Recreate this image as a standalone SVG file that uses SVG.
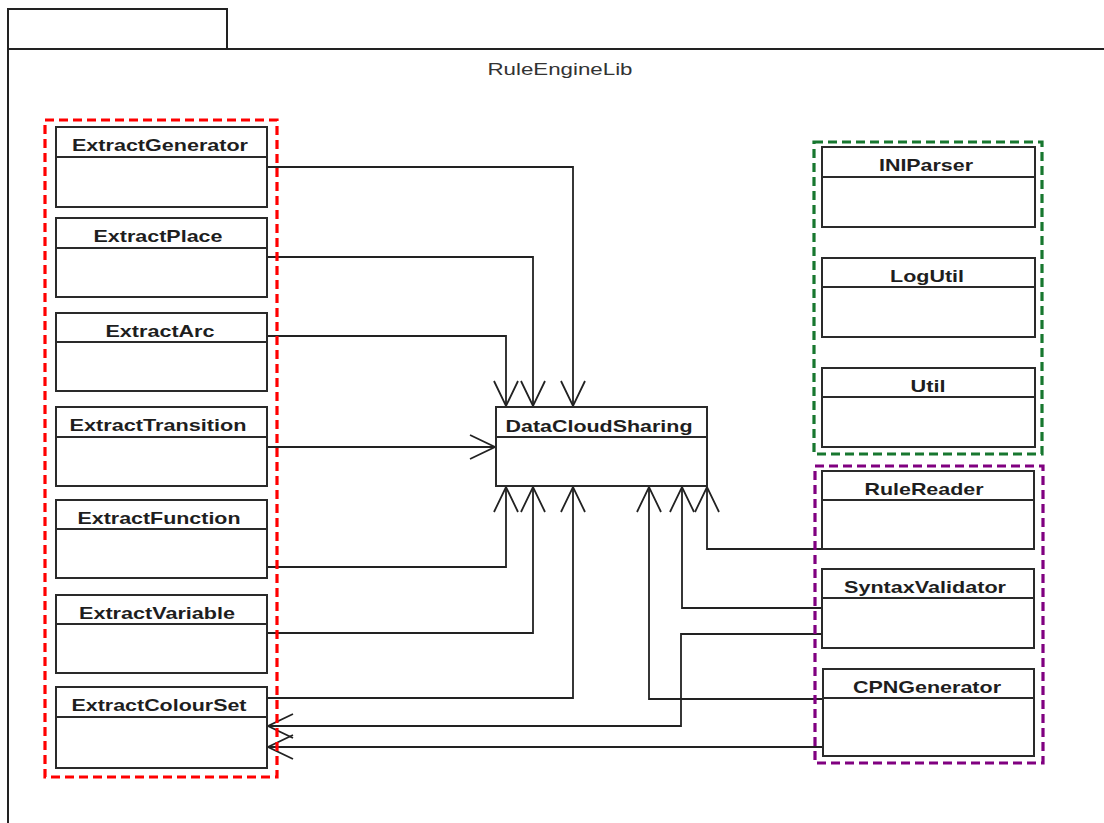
<svg xmlns="http://www.w3.org/2000/svg" width="1104" height="823" viewBox="0 0 1104 823">
  <style>
    .frame { fill: none; stroke: #222; stroke-width: 2; }
    .cls rect { fill: #fff; stroke: #2a2a2a; stroke-width: 2; }
    .cls line { stroke: #2a2a2a; stroke-width: 2; }
    .cls text { font-family: "Liberation Sans", Arial, sans-serif; font-size: 17px; font-weight: bold; fill: #1e1e1e; text-anchor: middle; }
    .title { font-family: "Liberation Sans", Arial, sans-serif; font-size: 17px; fill: #333; text-anchor: middle; }
    .dep { fill: none; stroke: #222; stroke-width: 1.8; marker-end: url(#open); }
    .grp { fill: none; stroke-width: 3.2; stroke-dasharray: 9 5; }
  </style>
  <defs>
    <marker id="open" markerUnits="userSpaceOnUse" markerWidth="32" markerHeight="32" viewBox="-28 -15 32 30" refX="0" refY="0" orient="auto">
      <path d="M-25,-12 L0,0 L-25,12" fill="none" stroke="#222" stroke-width="1.8"/>
    </marker>
  </defs>

  <rect width="1104" height="823" fill="#fff"/>

  <!-- package frame -->
  <g id="package">
    <rect class="frame" x="8" y="9" width="219" height="40"/>
    <path class="frame" d="M8,823 V49 H1104"/>
    <text class="title" x="560" y="75" textLength="145" lengthAdjust="spacingAndGlyphs">RuleEngineLib</text>
  </g>

  <!-- dependencies -->
  <g id="connectors">
    <path class="dep" d="M267,167 H573 V406"/>
    <path class="dep" d="M267,257 H533 V406"/>
    <path class="dep" d="M267,336 H506 V406"/>
    <path class="dep" d="M267,447 H495"/>
    <path class="dep" d="M267,567 H506 V487"/>
    <path class="dep" d="M267,633 H533 V487"/>
    <path class="dep" d="M267,698 H573 V487"/>
    <path class="dep" d="M822,549 H707 V487"/>
    <path class="dep" d="M822,608 H682 V487"/>
    <path class="dep" d="M822,699 H649 V487"/>
    <path class="dep" d="M822,634 H681 V726 H268"/>
    <path class="dep" d="M822,747 H268"/>
  </g>

  <!-- grouping outlines -->
  <g id="groups">
    <rect class="grp" x="45" y="120" width="232" height="657" stroke="#ff0000"/>
    <rect class="grp" x="814" y="142" width="228" height="312" stroke="#17772f"/>
    <rect class="grp" x="815" y="466" width="228" height="297" stroke="#800080"/>
  </g>

  <!-- classes -->
  <g id="ExtractGenerator" class="cls">
    <rect x="56" y="127" width="211" height="80"/>
    <line x1="56" y1="157" x2="267" y2="157"/>
    <text x="160" y="151" textLength="176" lengthAdjust="spacingAndGlyphs">ExtractGenerator</text>
  </g>
  <g id="ExtractPlace" class="cls">
    <rect x="56" y="218" width="211" height="79"/>
    <line x1="56" y1="248" x2="267" y2="248"/>
    <text x="158" y="242" textLength="129" lengthAdjust="spacingAndGlyphs">ExtractPlace</text>
  </g>
  <g id="ExtractArc" class="cls">
    <rect x="56" y="313" width="211" height="78"/>
    <line x1="56" y1="342" x2="267" y2="342"/>
    <text x="160" y="337" textLength="109" lengthAdjust="spacingAndGlyphs">ExtractArc</text>
  </g>
  <g id="ExtractTransition" class="cls">
    <rect x="56" y="407" width="211" height="79"/>
    <line x1="56" y1="437" x2="267" y2="437"/>
    <text x="158" y="431" textLength="177" lengthAdjust="spacingAndGlyphs">ExtractTransition</text>
  </g>
  <g id="ExtractFunction" class="cls">
    <rect x="56" y="500" width="211" height="78"/>
    <line x1="56" y1="529" x2="267" y2="529"/>
    <text x="159" y="524" textLength="163" lengthAdjust="spacingAndGlyphs">ExtractFunction</text>
  </g>
  <g id="ExtractVariable" class="cls">
    <rect x="56" y="595" width="211" height="78"/>
    <line x1="56" y1="624" x2="267" y2="624"/>
    <text x="157" y="619" textLength="156" lengthAdjust="spacingAndGlyphs">ExtractVariable</text>
  </g>
  <g id="ExtractColourSet" class="cls">
    <rect x="56" y="687" width="211" height="81"/>
    <line x1="56" y1="717" x2="267" y2="717"/>
    <text x="159" y="711" textLength="175" lengthAdjust="spacingAndGlyphs">ExtractColourSet</text>
  </g>

  <g id="DataCloudSharing" class="cls">
    <rect x="496" y="407" width="211" height="79"/>
    <line x1="496" y1="437" x2="707" y2="437"/>
    <text x="599" y="432" textLength="187" lengthAdjust="spacingAndGlyphs">DataCloudSharing</text>
  </g>

  <g id="INIParser" class="cls">
    <rect x="822" y="147" width="213" height="80"/>
    <line x1="822" y1="177" x2="1035" y2="177"/>
    <text x="926" y="171" textLength="94" lengthAdjust="spacingAndGlyphs">INIParser</text>
  </g>
  <g id="LogUtil" class="cls">
    <rect x="822" y="258" width="213" height="79"/>
    <line x1="822" y1="287" x2="1035" y2="287"/>
    <text x="927" y="282" textLength="74" lengthAdjust="spacingAndGlyphs">LogUtil</text>
  </g>
  <g id="Util" class="cls">
    <rect x="822" y="368" width="213" height="79"/>
    <line x1="822" y1="397" x2="1035" y2="397"/>
    <text x="928" y="392" textLength="35" lengthAdjust="spacingAndGlyphs">Util</text>
  </g>

  <g id="RuleReader" class="cls">
    <rect x="822" y="471" width="212" height="78"/>
    <line x1="822" y1="500" x2="1034" y2="500"/>
    <text x="924" y="495" textLength="119" lengthAdjust="spacingAndGlyphs">RuleReader</text>
  </g>
  <g id="SyntaxValidator" class="cls">
    <rect x="822" y="569" width="212" height="79"/>
    <line x1="822" y1="598" x2="1034" y2="598"/>
    <text x="925" y="593" textLength="162" lengthAdjust="spacingAndGlyphs">SyntaxValidator</text>
  </g>
  <g id="CPNGenerator" class="cls">
    <rect x="823" y="669" width="211" height="87"/>
    <line x1="823" y1="698" x2="1034" y2="698"/>
    <text x="927" y="693" textLength="148" lengthAdjust="spacingAndGlyphs">CPNGenerator</text>
  </g>
</svg>
